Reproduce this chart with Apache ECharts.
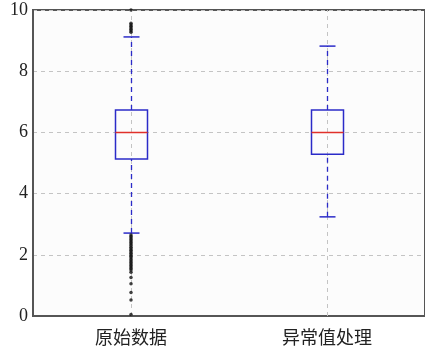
<!DOCTYPE html>
<html>
<head>
<meta charset="utf-8">
<script src="https://cdn.jsdelivr.net/npm/echarts@6/dist/echarts.min.js"></script>
<style>html,body{margin:0;padding:0;background:#fff;}#c{width:425px;height:348px;}</style>
</head>
<body>
<div id="c"></div>
<script>
// ---- data ----
var categories = ['原始数据', '异常值处理'];
var yTicks = [0, 2, 4, 6, 8, 10];
// [lower whisker, Q1, median, Q3, upper whisker]
var boxRaw = [2.71, 5.13, 6.0, 6.73, 9.12];
var boxClean = [3.24, 5.29, 6.0, 6.73, 8.82];
var outliersRawHigh = [10.0, 9.57, 9.52, 9.47, 9.42, 9.37, 9.32, 9.27];
var outliersRawLow = [2.65, 2.6, 2.55, 2.5, 2.45, 2.4, 2.35, 2.3, 2.25, 2.2, 2.15, 2.1, 2.05, 2.0, 1.95, 1.9, 1.85, 1.8, 1.75, 1.7, 1.65, 1.6, 1.55, 1.5, 1.43, 1.26, 1.05, 0.77, 0.52, 0.05];

var boxes = [boxRaw, boxClean];
var boxData = boxes.map(function (b, i) { return [i].concat(b); });
var outlierData = outliersRawHigh.concat(outliersRawLow).map(function (v) { return [0, v]; });

var chart = echarts.init(document.getElementById('c'), null, { renderer: 'canvas' });
var BLUE = '#2b2bc8', RED = '#e0302a';

function renderBox(params, api) {
  var x = api.value(0);
  var lo = api.coord([x, api.value(1)]);
  var q1 = api.coord([x, api.value(2)]);
  var med = api.coord([x, api.value(3)]);
  var q3 = api.coord([x, api.value(4)]);
  var hi = api.coord([x, api.value(5)]);
  var bottom = api.coord([x, 0]);
  var top = api.coord([x, 10]);
  var cx = Math.round(lo[0]) + 0.5;
  var hw = 16, cw = 8;
  return {
    type: 'group',
    children: [
      { type: 'line', shape: { x1: cx, y1: bottom[1], x2: cx, y2: top[1] },
        style: { stroke: '#c4c4c4', lineWidth: 1, lineDash: [4, 4] }, z2: 0 },
      { type: 'line', shape: { x1: cx, y1: lo[1], x2: cx, y2: q1[1] },
        style: { stroke: BLUE, lineWidth: 1.3, lineDash: [5, 4] }, z2: 1 },
      { type: 'line', shape: { x1: cx, y1: q3[1], x2: cx, y2: hi[1] },
        style: { stroke: BLUE, lineWidth: 1.3, lineDash: [5, 4] }, z2: 1 },
      { type: 'line', shape: { x1: cx - cw, y1: lo[1], x2: cx + cw, y2: lo[1] },
        style: { stroke: BLUE, lineWidth: 1.5 }, z2: 2 },
      { type: 'line', shape: { x1: cx - cw, y1: hi[1], x2: cx + cw, y2: hi[1] },
        style: { stroke: BLUE, lineWidth: 1.5 }, z2: 2 },
      { type: 'rect', shape: { x: cx - hw, y: q3[1], width: hw * 2, height: q1[1] - q3[1] },
        style: { fill: 'none', stroke: BLUE, lineWidth: 1.5 }, z2: 2 },
      { type: 'line', shape: { x1: cx - hw, y1: med[1], x2: cx + hw, y2: med[1] },
        style: { stroke: RED, lineWidth: 1.5 }, z2: 3 }
    ]
  };
}

chart.setOption({
  animation: false,
  backgroundColor: '#fff',
  grid: { left: 33, width: 397, top: 10, bottom: 32, show: true, borderColor: '#555', borderWidth: 2, backgroundColor: '#fcfcfc' },
  xAxis: {
    type: 'category',
    data: categories,
    axisLine: { show: true, lineStyle: { color: '#555', width: 2 } },
    axisTick: { show: false },
    axisLabel: { color: '#222', fontSize: 18, fontFamily: 'Noto Sans CJK SC', margin: 12 },
    splitLine: { show: false }
  },
  yAxis: {
    type: 'value',
    min: 0, max: 10, interval: 2,
    axisLine: { show: true, lineStyle: { color: '#555', width: 2 } },
    axisTick: { show: false },
    axisLabel: { color: '#222', fontSize: 18, fontFamily: 'Liberation Serif', margin: 5,
      formatter: function (v) { return yTicks.indexOf(v) >= 0 ? String(v) : ''; } },
    splitLine: { show: true, lineStyle: { color: '#c4c4c4', type: [4, 4], width: 1 } }
  },
  series: [
    { type: 'custom', renderItem: renderBox, data: boxData, encode: { x: 0, y: [1, 2, 3, 4, 5] }, z: 2 },
    { type: 'scatter', data: outlierData, symbol: 'circle', symbolSize: 3.5,
      itemStyle: { color: '#111' }, z: 3 }
  ]
});
</script>
</body>
</html>
